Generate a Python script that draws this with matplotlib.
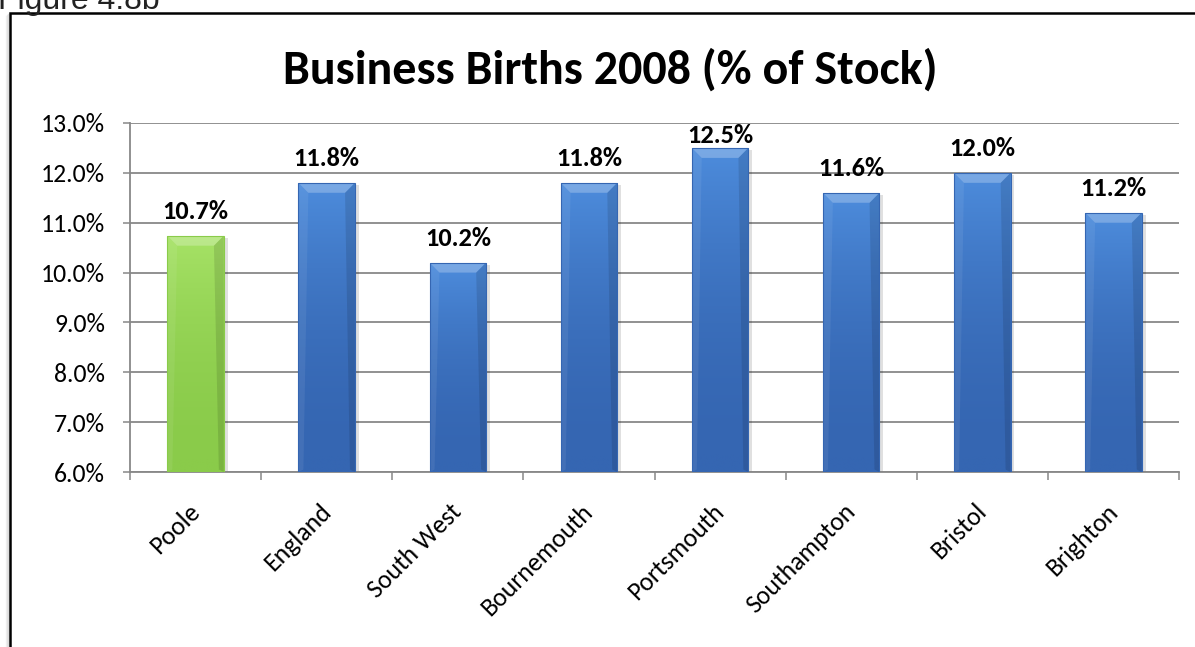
import numpy as np
import matplotlib
matplotlib.use("Agg")
import matplotlib.pyplot as plt
from matplotlib.patches import Rectangle, Polygon
from matplotlib.colors import LinearSegmentedColormap

plt.rcParams["font.family"] = ["Carlito", "Lato", "DejaVu Sans"]

areas = ["Poole", "England", "South West", "Bournemouth",
         "Portsmouth", "Southampton", "Bristol", "Brighton"]
births_pct = [10.74, 11.8, 10.2, 11.8, 12.5, 11.6, 12.0, 11.2]
highlight = ["Poole"]

BLUE = ("#4d8cdc", "#3566b2")
GREEN = ("#a6e266", "#8acb4a")
BAR_W = 0.43
Y0, Y1 = 6.0, 13.0
GRID = "#888888"

W, H = 1195, 647
fig = plt.figure(figsize=(W / 100, H / 100), dpi=100)
fig.patch.set_facecolor("white")

# outer chart frame (left and top edges), with a faint shadow
frame = fig.add_axes([0, 0, 1, 1], zorder=-1)
frame.set_xlim(0, W)
frame.set_ylim(H, 0)
frame.axis("off")
for off, a in ((4, 0.05), (3, 0.08), (2, 0.12)):
    frame.plot([10 - off, 10 - off], [H, 12 + off], color="black", alpha=a, lw=1)
frame.plot([10, 10, W], [H, 12.5, 12.5], color="black", lw=1.8,
           solid_joinstyle="miter")
frame.text(-2, 9, "Figure 4.8b", fontsize=23,
           family=["Liberation Sans", "DejaVu Sans"],
           ha="left", va="baseline", color="#222222")

ax = fig.add_axes([130 / W, 1 - 472 / H, (1179 - 130) / W, (472 - 123) / H])
yt = np.arange(Y0, Y1 + 0.01, 1)
ax.set_yticks(yt)
ax.set_yticklabels([f"{v:.1f}%" for v in yt], fontsize=18.5)
ax.set_xticks(np.arange(len(areas) + 1) - 0.5)
ax.set_xticklabels([])
ax.tick_params(axis="x", length=5.8, color=GRID, width=1.1)
ax.tick_params(axis="y", length=5, color=GRID, width=1.1, pad=13)
ax.yaxis.grid(True, color=GRID, lw=1.3)
ax.set_axisbelow(True)
for side in ("top", "right"):
    ax.spines[side].set_visible(False)
for side in ("left", "bottom"):
    ax.spines[side].set_color(GRID)
    ax.spines[side].set_linewidth(1.3)

for i, lab in enumerate(areas):
    ax.text(i - 0.06, 5.45, lab, rotation=45, rotation_mode="anchor",
            ha="right", va="top", fontsize=18.5)

# bevelled bars: vertical gradient, shaded sides, lighter top facet
bev_h = 0.2
bev_w = 0.075
for i, (name, v) in enumerate(zip(areas, births_pct)):
    top_c, bot_c = GREEN if name in highlight else BLUE
    x0 = i - BAR_W / 2
    x1 = x0 + BAR_W
    h = v - Y0
    ax.add_patch(Rectangle((x0 + 0.03, Y0), BAR_W, h - 0.04, facecolor="black",
                           alpha=0.12, lw=0, zorder=2))
    rect = Rectangle((x0, Y0), BAR_W, h, facecolor="none", lw=0, zorder=3)
    ax.add_patch(rect)
    cmap = LinearSegmentedColormap.from_list("bar", [bot_c, top_c])
    vert = np.linspace(0, 1, 64)[:, None] ** 2
    img = cmap(vert * np.ones((1, 32)))
    im = ax.imshow(img, extent=(x0, x1, Y0, v), origin="lower",
                   aspect="auto", zorder=3, interpolation="bilinear")
    im.set_clip_path(rect)
    # side facets
    ax.add_patch(Polygon([(x0, Y0), (x0 + bev_w * 0.5, Y0 + 0.05),
                          (x0 + bev_w, v - bev_h), (x0, v)],
                         facecolor="white", alpha=0.07, lw=0, zorder=4))
    ax.add_patch(Polygon([(x1, Y0), (x1 - bev_w * 0.5, Y0 + 0.05),
                          (x1 - bev_w, v - bev_h), (x1, v)],
                         facecolor="black", alpha=0.11, lw=0, zorder=4))
    ax.add_patch(Polygon([(x0, v), (x1, v), (x1 - bev_w, v - bev_h),
                          (x0 + bev_w, v - bev_h)],
                         facecolor="white", alpha=0.25, lw=0, zorder=4))
    ax.add_patch(Rectangle((x0, Y0), BAR_W, h, facecolor="none",
                           edgecolor=bot_c, lw=0.8, zorder=4))
    ly = min(v + 0.49, Y1 - 0.25)
    ax.text(i, ly, f"{v:.1f}%", ha="center", va="center",
            fontsize=19, fontweight="bold", zorder=5)

ax.set_xlim(-0.5, len(areas) - 0.5)
ax.set_ylim(Y0, Y1)

fig.text(610 / W, 1 - 70 / H, "Business Births 2008 (% of Stock)",
         ha="center", va="center", fontsize=34.5, fontweight="bold")

fig.savefig("out.png", dpi=100, facecolor="white")
